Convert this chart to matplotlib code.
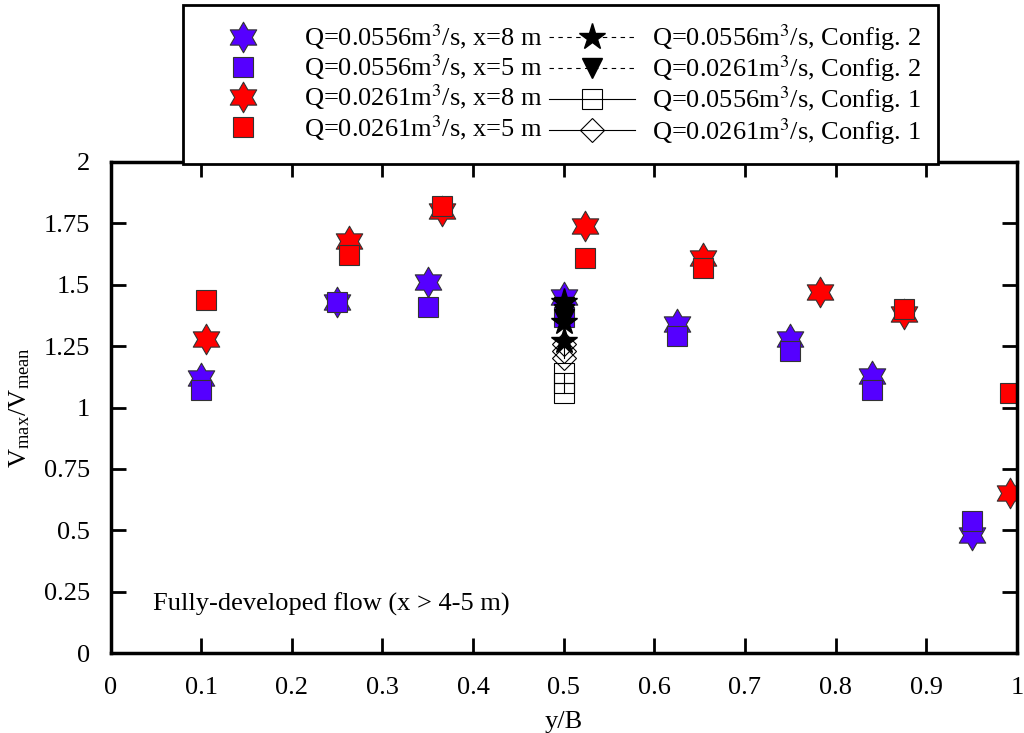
import numpy as np
import matplotlib
matplotlib.use('Agg')
import matplotlib.pyplot as plt
from matplotlib.path import Path

plt.rcParams['font.family'] = ['Liberation Serif', 'DejaVu Serif']
plt.rcParams['mathtext.fontset'] = 'stix'
plt.rcParams['font.size'] = 19

# Q=0.0556 m3/s
yb_blue = [0.1, 0.25, 0.35, 0.5, 0.625, 0.75, 0.84, 0.95]
v_blue_x8 = [1.12, 1.43, 1.51, 1.45, 1.34, 1.28, 1.13, 0.48]
v_blue_x5 = [1.07, 1.43, 1.41, 1.37, 1.29, 1.23, 1.07, 0.54]

# Q=0.0261 m3/s
yb_red_x8 = [0.105, 0.263, 0.366, 0.524, 0.654, 0.783, 0.876, 0.992]
v_red_x8 = [1.28, 1.68, 1.80, 1.74, 1.61, 1.47, 1.38, 0.65]
yb_red_x5 = [0.105, 0.263, 0.366, 0.524, 0.654, 0.876, 0.992]
v_red_x5 = [1.44, 1.62, 1.82, 1.61, 1.57, 1.40, 1.06]

# centreline measurements, two configurations
yb_cfg = [0.5, 0.5, 0.5]
v_cfg2_q1 = [1.43, 1.35, 1.27]
v_cfg2_q2 = [1.41, 1.38, 1.36]
v_cfg1_q1 = [1.14, 1.10, 1.06]
v_cfg1_q2 = [1.26, 1.23, 1.20]

labels = [
    r'Q=0.0556m$^3$/s, x=8 m',
    r'Q=0.0556m$^3$/s, x=5 m',
    r'Q=0.0261m$^3$/s, x=8 m',
    r'Q=0.0261m$^3$/s, x=5 m',
    r'Q=0.0556m$^3$/s, Config. 2',
    r'Q=0.0261m$^3$/s, Config. 2',
    r'Q=0.0556m$^3$/s, Config. 1',
    r'Q=0.0261m$^3$/s, Config. 1',
]

# six-pointed star
ang = np.pi / 2 + np.arange(12) * np.pi / 6
rad = np.where(np.arange(12) % 2 == 0, 1.0, 1 / np.sqrt(3))
hexagram = Path(np.column_stack([rad * np.cos(ang), rad * np.sin(ang)]).tolist() + [[0, 1]], closed=True)

blue = '#5500ff'
red = '#ff0000'
edge = '#333333'
dashed = (0, (4, 4))

fig = plt.figure(figsize=(10.24, 7.33), dpi=100)
ax = fig.add_axes([0.108, 0.109, 0.885, 0.670])

h1, = ax.plot(yb_blue, v_blue_x8, ls='none', marker=hexagram, ms=22, mfc=blue, mec=edge, mew=0.8)
h2, = ax.plot(yb_blue, v_blue_x5, ls='none', marker='s', ms=15, mfc=blue, mec=edge, mew=0.8)
h3, = ax.plot(yb_red_x8, v_red_x8, ls='none', marker=hexagram, ms=22, mfc=red, mec=edge, mew=0.8)
h4, = ax.plot(yb_red_x5, v_red_x5, ls='none', marker='s', ms=15, mfc=red, mec=edge, mew=0.8)
h5, = ax.plot(yb_cfg, v_cfg2_q1, ls=dashed, lw=0.8, color='black', marker='*', ms=20)
h6, = ax.plot(yb_cfg, v_cfg2_q2, ls=dashed, lw=0.8, color='black', marker='v', ms=15)
h7, = ax.plot(yb_cfg, v_cfg1_q1, ls='-', lw=0.8, color='black', marker='s', ms=15, mfc='none', mew=0.8)
h8, = ax.plot(yb_cfg, v_cfg1_q2, ls='-', lw=0.8, color='black', marker='D', ms=12, mfc='none', mew=0.8)

ax.set_xlim(0, 1)
ax.set_ylim(0, 2)
ax.set_xticks(np.arange(0, 1.01, 0.1))
ax.set_xticklabels(['0', '0.1', '0.2', '0.3', '0.4', '0.5', '0.6', '0.7', '0.8', '0.9', '1'])
ax.set_yticks(np.arange(0, 2.01, 0.25))
ax.set_yticklabels(['0', '0.25', '0.5', '0.75', '1', '1.25', '1.5', '1.75', '2'])
ax.tick_params(direction='in', length=11, width=2, top=True, right=True, labelsize=19)
ax.tick_params(axis='x', pad=17)
ax.tick_params(axis='y', pad=15)
for s in ax.spines.values():
    s.set_linewidth(2.5)

ax.set_xlabel('y/B', fontsize=19, labelpad=9)
ax.set_ylabel(r'V$_{\mathregular{max}}$/V$_{\mathregular{mean}}$', fontsize=19, labelpad=8)
ax.text(0.047, 0.2, 'Fully-developed flow (x > 4-5 m)', fontsize=19, va='center', ha='left')

leg = fig.legend([h1, h2, h3, h4, h5, h6, h7, h8], labels, ncol=2,
                 loc='upper left', bbox_to_anchor=(0.179, 0.993),
                 frameon=True, fancybox=False, edgecolor='black', framealpha=1,
                 fontsize=19, handlelength=3.26, handletextpad=0.65, columnspacing=0.25,
                 labelspacing=0.02, borderpad=0.65, borderaxespad=0)
leg.get_frame().set_linewidth(2)
leg.set_zorder(5)

fig.savefig('out.png', dpi=100)
